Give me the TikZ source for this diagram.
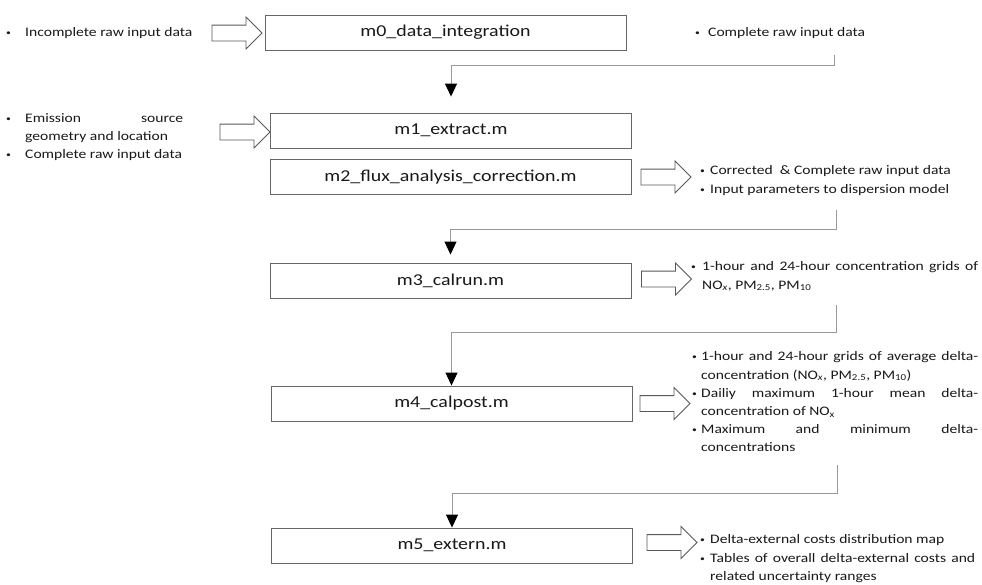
\documentclass[tikz,border=0pt]{standalone}
\usepackage{fontspec}
\setmainfont[FakeStretch=1.2]{Carlito}
\usetikzlibrary{arrows.meta}
\usetikzlibrary{shapes.arrows}
\usetikzlibrary{positioning}

% bullet item with hanging indent
\newcommand{\bul}[2][10pt]{\par\noindent\hangindent=#1\hangafter=1%
  \makebox[#1][l]{\raisebox{1pt}{\fontsize{8}{8}\selectfont\textbullet}}\strut#2\par}

\tikzset{
  module/.style={draw=black!60, line width=0.9pt, minimum width=361pt,
    minimum height=35pt, inner sep=0pt, font=\fontsize{16.6}{20}\selectfont, text=black!90},
  fat/.style={single arrow, draw=black!65, line width=0.9pt, minimum height=50pt,
    inner xsep=0pt, inner ysep=7.5pt, single arrow head extend=8pt},
  flow/.style={draw=black!40, line width=0.9pt,
    -{Triangle[color=black, fill=black, width=12pt, length=13pt]}},
  note/.style={inner sep=0pt, anchor=north west, align=justify, text=black!90,
    font=\fontsize{13}{18.2}\selectfont}
}

\begin{document}
\begin{tikzpicture}[x=1pt, y=-1pt]
\path[fill=white, use as bounding box] (0,0) rectangle (982,584);

%modules
\node[module] (m0) at (445.5,32.5) {m0\_data\_integration};
\node[module] (m1) at (451,130.5) {m1\_extract.m};
\node[module] (m2) at (450.5,177) {m2\_flux\_analysis\_correction.m};
\node[module] (m3) at (450.5,280.5) {m3\_calrun.m};
\node[module] (m4) at (451.5,403.5) {m4\_calpost.m};
\node[module] (m5) at (452,545.5) {m5\_extern.m};

%block arrows
\node[fat] (a0) at (233,33) {};
\node[fat] (a1) at (241,132) {};
\node[fat] (a2) at (662,177) {};
\node[fat] (a3) at (662.5,279) {};
\node[fat] (a4) at (661,403.5) {};
\node[fat] (a5) at (668,542.5) {};

%inputs
\node[note, text width=200pt] (in0) at (6,18.5) {\bul[19pt]{Incomplete raw input data}};
\node[note, text width=177pt] (in1) at (6,104) {%
  \bul[19pt]{Emission source\linebreak geometry and location}%
  \bul[19pt]{Complete raw input data}};

%outputs
\node[note, text width=250pt] (out0) at (695,18.5) {\bul[13pt]{Complete raw input data}};
\node[note, text width=270pt] (out2) at (700,156.5) {%
  \bul{Corrected~ \& Complete raw input data}%
  \bul{Input parameters to dispersion model}};
\node[note, text width=287pt] (out3) at (691,252.5) {%
  \bul[11pt]{1-hour and 24-hour concentration grids of\linebreak
    NO\textsubscript{\itshape x}, PM\textsubscript{2.5}, PM\textsubscript{10}}};
\node[note, text width=286pt] (out4) at (692,342.5) {%
  \bul[9pt]{1-hour and 24-hour grids of average delta-\linebreak
    concentration (NO\textsubscript{\itshape x}, PM\textsubscript{2.5}, PM\textsubscript{10})}%
  \bul[9pt]{Dailiy maximum 1-hour mean delta-\linebreak concentration of NO\textsubscript{x}}%
  \bul[9pt]{Maximum and minimum delta-\linebreak concentrations}};
\node[note, text width=275pt] (out5) at (700,525.5) {%
  \bul{Delta-external costs distribution map}%
  \bul{Tables of overall delta-external costs and\linebreak related uncertainty ranges}};

%connectors
\coordinate (c0) at (834,55);
\coordinate (c2) at (836,210);
\coordinate (c3) at (836,305);
\coordinate (c4) at (837,465);
\draw[flow, shorten >=16pt] (c0) -- ++(0,10) -| (m1.north);
\draw[flow, shorten >=8pt] (c2) -- ++(0,19) -| (m3.north);
\draw[flow] (c3) -- ++(0,27) -| (m4.north);
\draw[flow] (c4) -- ++(0,28) -| (m5.north);
\end{tikzpicture}
\end{document}
